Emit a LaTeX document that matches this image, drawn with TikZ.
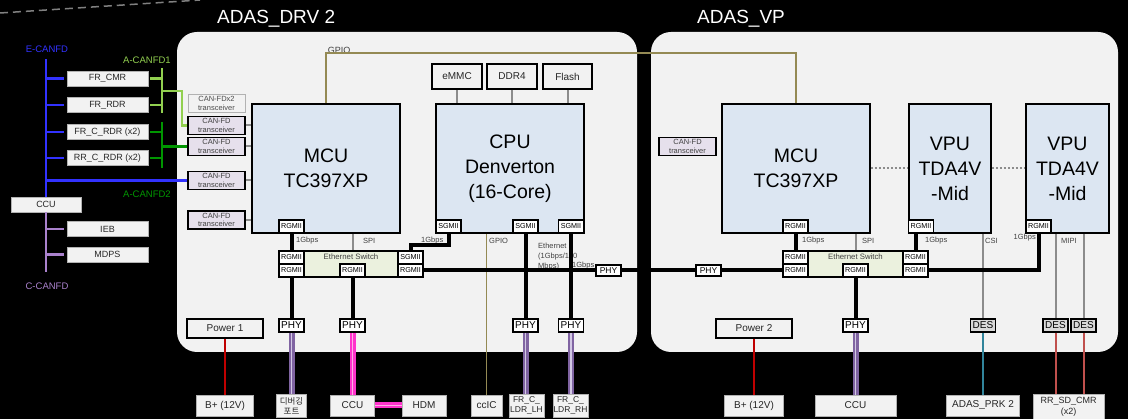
\documentclass[tikz,border=0pt]{standalone}
\usepackage{fontspec}
\setmainfont{Liberation Sans}
\newfontfamily\kofont{Noto Sans CJK KR}
\usepackage{tikz}
\usetikzlibrary{positioning}

\definecolor{panelgray}{RGB}{242,242,242}
\definecolor{chipblue}{RGB}{220,230,242}
\definecolor{swgreen}{RGB}{235,241,222}
\definecolor{xcvlav}{RGB}{230,224,236}
\definecolor{desgray}{RGB}{217,217,217}
\definecolor{linegray}{RGB}{140,140,140}
\definecolor{ebus}{RGB}{50,50,255}
\definecolor{aone}{RGB}{146,208,80}
\definecolor{atwo}{RGB}{0,150,0}
\definecolor{cbus}{RGB}{170,130,205}
\definecolor{gpio}{RGB}{148,138,84}
\definecolor{pwrred}{RGB}{192,0,0}
\definecolor{ethpurp}{RGB}{128,100,162}
\definecolor{ethlite}{RGB}{210,200,228}
\definecolor{ethpink}{RGB}{255,51,204}
\definecolor{pinklite}{RGB}{255,175,230}
\definecolor{csiteal}{RGB}{49,132,155}
\definecolor{mipired}{RGB}{192,80,77}

\tikzset{
  panel/.style={fill=panelgray, rounded corners=20pt, minimum height=320pt, inner sep=0pt},
  paneltitle/.style={text=white, font=\fontsize{19}{20}\selectfont, inner sep=0pt},
  chip/.style={draw, line width=1.8pt, fill=chipblue, minimum width=148pt, minimum height=129pt,
    inner sep=0pt, align=center, font=\fontsize{19.5}{25}\selectfont},
  port/.style={draw, line width=1.8pt, fill=white, minimum width=25pt, minimum height=13pt,
    inner sep=0pt, font=\fontsize{7.2}{8}\selectfont},
  phy/.style={port, font=\fontsize{10}{11}\selectfont},
  linephy/.style={port, minimum height=11pt, font=\fontsize{8.5}{9}\selectfont},
  des/.style={phy, fill=desgray},
  switchbox/.style={draw, line width=1.8pt, fill=swgreen, minimum width=145pt, minimum height=26pt, inner sep=0pt},
  xcvr/.style={draw, line width=1.8pt, fill=xcvlav, minimum width=57pt, minimum height=18pt,
    inner sep=0pt, align=center, text=black!75, font=\fontsize{7.5}{8.5}\selectfont},
  ecu/.style={draw=black!30, line width=0.6pt, fill=panelgray, minimum width=81pt, minimum height=15pt,
    inner sep=0pt, text=black!85, font=\fontsize{9}{10}\selectfont},
  sink/.style={ecu, minimum height=21pt, align=center, font=\fontsize{10}{11}\selectfont},
  membox/.style={draw, line width=1.8pt, fill=panelgray, minimum width=50pt, minimum height=25pt,
    inner sep=0pt, text=black!85, font=\fontsize{10}{11}\selectfont},
  pwr/.style={membox, minimum width=76pt, minimum height=19pt},
  buslbl/.style={inner sep=0pt, font=\fontsize{9.5}{10}\selectfont},
  note/.style={inner sep=0pt, text=black!75, font=\fontsize{7.5}{9}\selectfont},
  eth/.style={line width=4pt},
  ctl/.style={draw=linegray, line width=2pt},
  bus/.style={line width=2.3pt},
  dotlink/.style={draw=linegray, line width=2pt, dash pattern=on 2pt off 2pt},
  pwrline/.style={draw=pwrred, line width=1.8pt},
  lanepurple/.style={draw=ethpurp, line width=2.4pt, double=ethlite, double distance=1.2pt},
  lanepink/.style={draw=ethpink, line width=2.4pt, double=pinklite, double distance=1.2pt},
  mipiline/.style={draw=mipired, line width=2pt}
}

\begin{document}
\begin{tikzpicture}[x=1pt, y=-1pt, node distance=5pt]

% background
\useasboundingbox (0,0) rectangle (1128,419);
\fill[black] (0,0) rectangle (1128,419);
\draw[gray, line width=1.5pt, dash pattern=on 8pt off 5pt] (0,13) -- (200,0);

% boards
\node[panel, minimum width=460pt] (drv) at (407,192) {};
\node[panel, minimum width=467pt] (vp)  at (884.5,192) {};
\node[paneltitle, anchor=base west] (drvttl) at (217,24) {ADAS\_DRV 2};
\node[paneltitle, anchor=base west] (vpttl)  at (697,24) {ADAS\_VP};

% vehicle CAN side
\node[buslbl, text=ebus] (elbl)  at (47,49)   {E-CANFD};
\node[buslbl, text=cbus] (clbl)  at (47,286)  {C-CANFD};
\node[buslbl, text=aone] (a1lbl) at (147,60)  {A-CANFD1};
\node[buslbl, text=atwo] (a2lbl) at (147,194) {A-CANFD2};

\node[ecu] (frcmr)  at (107.5,78.5) {FR\_CMR};
\node[ecu] (frrdr)  [below=11pt of frcmr]  {FR\_RDR};
\node[ecu] (frcrdr) [below=11pt of frrdr]  {FR\_C\_RDR (x2)};
\node[ecu] (rrcrdr) [below=11pt of frcrdr] {RR\_C\_RDR (x2)};
\node[ecu, minimum width=70pt] (ccu) at (46,204.5) {CCU};
\node[ecu] (ieb)  at (107.5,229) {IEB};
\node[ecu] (mdps) [below=10pt of ieb] {MDPS};

\node[xcvr, draw=black!30, fill=panelgray, line width=1pt, text=black!70] (xcx2) at (216.5,103.5) {CAN-FDx2\\transceiver};
\node[xcvr] (xc1) at (216.5,125.5) {CAN-FD\\transceiver};
\node[xcvr] (xc2) at (216.5,146.5) {CAN-FD\\transceiver};
\node[xcvr] (xc3) at (216.5,180.5) {CAN-FD\\transceiver};
\node[xcvr] (xc4) at (216.5,220)   {CAN-FD\\transceiver};
\node[xcvr] (xcB) at (687.5,146.5) {CAN-FD\\transceiver};

% processors
\node[chip] (mcuA) at (326,168.5) {MCU\\TC397XP};
\node[chip] (cpu)  at (510,168.5) {CPU\\Denverton\\(16-Core)};
\node[chip] (mcuB) at (796,168.5) {MCU\\TC397XP};
\node[chip, minimum width=82pt] (vpu1) at (950,168.5)    {VPU\\TDA4V\\-Mid};
\node[chip, minimum width=83pt] (vpu2) at (1067.5,168.5) {VPU\\TDA4V\\-Mid};

\node[port] (rgMA) at (291.5,226.5) {RGMII};
\node[port] (sgC1) at (448.5,226.5) {SGMII};
\node[port] (sgC2) at (525.5,226.5) {SGMII};
\node[port] (sgC3) at (571,226.5)   {SGMII};
\node[port] (rgMB) at (795.5,226.5) {RGMII};
\node[port] (rgV1) at (921,226.5)   {RGMII};
\node[port] (rgV2) at (1038.5,226.5) {RGMII};

\node[membox] (emmc) at (457,76.5) {eMMC};
\node[membox] (ddr4) at (512,76.5) {DDR4};
\node[membox, minimum width=49pt] (flash) at (567.5,76.5) {Flash};

% ethernet switches
\node[switchbox] (swA) at (351,264) {};
\node[note, font=\fontsize{7.8}{9}\selectfont] (swAlbl) at (351,257) {Ethernet Switch};
\node[port] (swAl1) at (291.5,257.5) {RGMII};
\node[port] (swAl2) at (291.5,270.5) {RGMII};
\node[port] (swAm)  at (352.5,270.5) {RGMII};
\node[port] (swAr1) at (410.5,257.5) {SGMII};
\node[port] (swAr2) at (410.5,270.5) {RGMII};

\node[switchbox] (swB) at (855.5,264) {};
\node[note, font=\fontsize{7.8}{9}\selectfont] (swBlbl) at (855.5,257) {Ethernet Switch};
\node[port] (swBl1) at (795.5,257.5) {RGMII};
\node[port] (swBl2) at (795.5,270.5) {RGMII};
\node[port] (swBm)  at (855.5,270.5) {RGMII};
\node[port] (swBr1) at (915.5,257.5) {RGMII};
\node[port] (swBr2) at (915.5,270.5) {RGMII};

\node[linephy] (phyA) at (608.5,270.5) {PHY};
\node[linephy] (phyB) at (708.5,270.5) {PHY};

% board edge
\node[pwr] (pwr1) at (225,328.5) {Power 1};
\node[pwr] (pwr2) at (754,328.5) {Power 2};
\node[phy] (phyE) at (291.5,325.5) {PHY};
\node[phy] (phyF) at (352.5,325.5) {PHY};
\node[phy] (phyC) at (525.5,325.5) {PHY};
\node[phy] (phyD) at (571,325.5)   {PHY};
\node[phy] (phyG) at (855.5,325.5) {PHY};
\node[des] (desA) at (983,325.5)    {DES};
\node[des] (desB) at (1055.5,325.5) {DES};
\node[des] (desC) at (1083.5,325.5) {DES};

% outside the boards
\node[sink, minimum width=57pt] (bat1) at (225,405.5) {B+ (12V)};
\node[sink, minimum width=30pt, minimum height=23pt, font=\kofont\fontsize{8.5}{10}\selectfont] (dbg) at (291.5,405.5) {디버깅\\포트};
\node[sink, minimum width=44pt] (ccuA) at (352.5,405.5) {CCU};
\node[sink, minimum width=44pt] (hdm)  at (424,405.5)   {HDM};
\node[sink, minimum width=31pt] (ccic) at (486.5,405.5) {ccIC};
\node[sink, minimum width=35pt, minimum height=23pt, font=\fontsize{8.5}{10}\selectfont] (ldrL) at (526.5,405.5) {FR\_C\_\\LDR\_LH};
\node[sink, minimum width=35pt, minimum height=23pt, font=\fontsize{8.5}{10}\selectfont] (ldrR) at (570.5,405.5) {FR\_C\_\\LDR\_RH};
\node[sink, minimum width=59pt] (bat2) at (754,405.5)   {B+ (12V)};
\node[sink, minimum width=81pt] (ccuB) at (855.5,405.5) {CCU};
\node[sink, minimum width=73pt] (prk)  at (983,405.5)   {ADAS\_PRK 2};
\node[sink, minimum width=71pt, minimum height=26pt, font=\fontsize{9}{11}\selectfont] (rrsd) at (1068.5,407) {RR\_SD\_CMR\\(x2)};

% link labels
\node[note, font=\fontsize{9}{10}\selectfont] (gpioA) at (339,50) {GPIO};
\node[note, anchor=west] (gbA)  at (296,241) {1Gbps};
\node[note, anchor=west] (spiA) at (363,241) {SPI};
\node[note, anchor=west] (gbC)  at (421,241) {1Gbps};
\node[note, anchor=west] (gpioC) at (489,241) {GPIO};
\node[note, anchor=north west, align=left, font=\fontsize{7.5}{10}\selectfont] (ethC) at (538,243) {Ethernet\\(1Gbps/100\\Mbps)};
\node[note, anchor=west] (gbD)  at (572,266) {1Gbps};
\node[note, anchor=west] (gbB)  at (802,241) {1Gbps};
\node[note, anchor=west] (spiB) at (862,241) {SPI};
\node[note, anchor=west] (gbV1) at (925,241) {1Gbps};
\node[note, anchor=west] (csi)  at (985,241) {CSI};
\node[note, anchor=east] (gbV2) at (1036,238) {1Gbps};
\node[note, anchor=west] (mipi) at (1061,241) {MIPI};

% CAN buses
\coordinate (etop)  at (46,59);
\coordinate (cbot)  at (46,272);
\coordinate (a1top) at (162,68);
\coordinate (a1bot) at (162,113);
\coordinate (a1mid) at (162,91);
\coordinate (a2top) at (162,122);
\coordinate (a2bot) at (162,168);

\draw[bus, ebus] (etop) -- (ccu.north);
\path (frcmr.west -| etop)  edge[bus, ebus, shorten >=3pt] (frcmr.west)
      (frrdr.west -| etop)  edge[bus, ebus, shorten >=3pt] (frrdr.west)
      (frcrdr.west -| etop) edge[bus, ebus, shorten >=3pt] (frcrdr.west)
      (rrcrdr.west -| etop) edge[bus, ebus, shorten >=3pt] (rrcrdr.west)
      (xc3.west -| etop)    edge[bus, ebus] (xc3.west);

\draw[bus, cbus] (ccu.south) -- (cbot);
\path (ieb.west -| cbot)  edge[bus, cbus, shorten >=3pt] (ieb.west)
      (mdps.west -| cbot) edge[bus, cbus, shorten >=3pt] (mdps.west);

\draw[bus, aone] (a1top) -- (a1bot);
\path (frcmr.east) edge[bus, aone, shorten <=2pt] (frcmr.east -| a1top)
      (frrdr.east) edge[bus, aone, shorten <=2pt] (frrdr.east -| a1top);
\draw[bus, aone] (a1mid) -| ([xshift=-5pt]xc1.west) -- (xc1.west);

\draw[bus, atwo] (a2top) -- (a2bot);
\path (frcrdr.east) edge[bus, atwo, shorten <=2pt] (frcrdr.east -| a2top)
      (rrcrdr.east) edge[bus, atwo, shorten <=2pt] (rrcrdr.east -| a2top);
\draw[bus, atwo] (a2top |- xc2.west) -- (xc2.west);

% control lines
\path (xc1.east) edge[ctl] (xc1.east -| mcuA.west)
      (xc2.east) edge[ctl] (xc2.east -| mcuA.west)
      (xc3.east) edge[ctl] (xc3.east -| mcuA.west)
      (xc4.east) edge[ctl] (xc4.east -| mcuA.west)
      (emmc.south)  edge[ctl] (emmc.south |- cpu.north)
      (ddr4.south)  edge[ctl] (ddr4.south |- cpu.north)
      (flash.south) edge[ctl] (flash.south |- cpu.north)
      (mcuA.south -| swAm) edge[ctl] (swA.north -| swAm)
      (mcuB.south -| swBm) edge[ctl] (swB.north -| swBm)
      (desA.north |- vpu1.south) edge[ctl] (desA.north)
      (desB.north |- vpu2.south) edge[ctl] (desB.north)
      (desC.north |- vpu2.south) edge[ctl] (desC.north);

\path (mcuB.east) edge[dotlink] (vpu1.west)
      (vpu1.east) edge[dotlink] (vpu2.west);

% GPIO
\coordinate (gpiotop) at (560,53);
\draw[gpio, line width=1.8pt] (mcuA.north) |- (gpiotop) -| (mcuB.north);
\draw[gpio, line width=1.8pt] (ccic.north |- cpu.south) -- (ccic.north);

% ethernet
\path (rgMA.south)  edge[eth] (swAl1.north)
      (swAl2.south) edge[eth] (phyE.north)
      (swAm.south)  edge[eth] (phyF.north)
      (sgC2.south)  edge[eth] (phyC.north)
      (sgC3.south)  edge[eth] (phyD.north)
      (swAr2.east)  edge[eth] (phyA.west)
      (phyA.east)   edge[eth] (phyB.west)
      (phyB.east)   edge[eth] (swBl2.west)
      (rgMB.south)  edge[eth] (swBl1.north)
      (swBr1.north |- rgV1.south) edge[eth] (swBr1.north)
      (swBm.south)  edge[eth] (phyG.north);
\draw[eth] (swAr1.north) |- ([yshift=-11pt]sgC1.south) -- (sgC1.south);
\draw[eth] (rgV2.south) |- (swBr2.east);

% harness
\path (pwr1.south) edge[pwrline] (bat1.north)
      (pwr2.south) edge[pwrline] (bat2.north)
      (phyE.south) edge[lanepurple] (dbg.north)
      (phyF.south) edge[lanepink] (ccuA.north)
      (ccuA.east)  edge[lanepink] (hdm.west)
      (phyC.south) edge[lanepurple] (phyC.south |- ldrL.north)
      (phyD.south) edge[lanepurple] (phyD.south |- ldrR.north)
      (phyG.south) edge[lanepurple] (ccuB.north)
      (desA.south) edge[csiteal, line width=2pt] (prk.north)
      (desB.south) edge[mipiline] (desB.south |- rrsd.north)
      (desC.south) edge[mipiline] (desC.south |- rrsd.north);

\end{tikzpicture}
\end{document}
